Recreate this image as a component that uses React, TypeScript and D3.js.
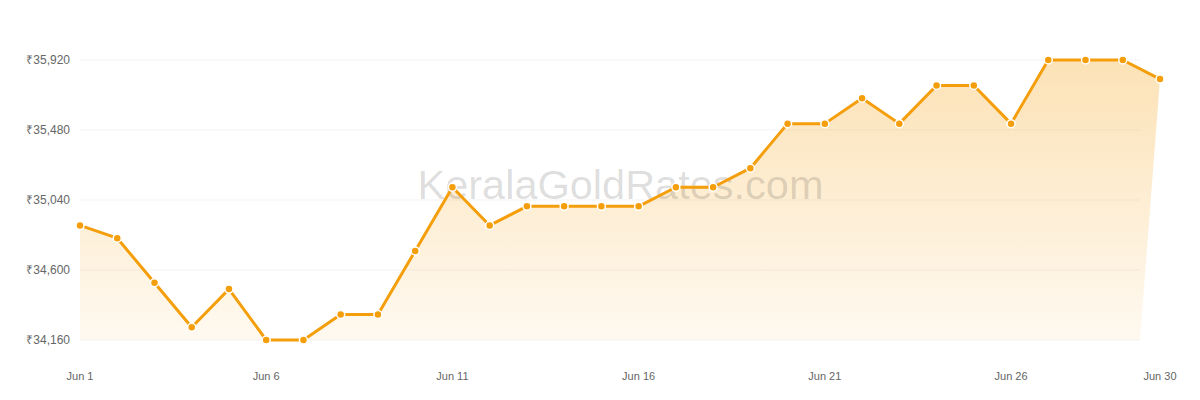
import React from "react";
import * as d3 from "d3";

const days: number[] = Array.from({ length: 30 }, (_, i) => i + 1);
const prices: number[] = [
  34880, 34800, 34520, 34240, 34480, 34160, 34160, 34320, 34320, 34720,
  35120, 34880, 35000, 35000, 35000, 35000, 35120, 35120, 35240, 35520,
  35520, 35680, 35520, 35760, 35760, 35520, 35920, 35920, 35920, 35800,
];
const yTicks: number[] = [34160, 34600, 35040, 35480, 35920];
const xTickDays: number[] = [1, 6, 11, 16, 21, 26, 30];
const monthLabel = "Jun";
const watermark = "KeralaGoldRates.com";

const W = 1200;
const H = 400;
const FONT = "Helvetica, Arial, 'Liberation Sans', sans-serif";

export default function App() {
  const x = d3.scaleLinear().domain([1, 30]).range([80, 1160]);
  const y = d3.scaleLinear().domain([34160, 35920]).range([340, 60]);
  const gridRight = 1140;
  const baseY = y(34160);

  const pts: [number, number][] = days.map((d, i) => [x(d), y(prices[i])]);
  const linePath = d3.line()(pts) || "";
  const areaPath =
    linePath + `L${gridRight},${baseY}L${x(1)},${baseY}Z`;
  const fmt = (v: number) => "₹" + d3.format(",")(v);

  return (
    <svg
      width={W}
      height={H}
      style={{ position: "absolute", left: 0, top: 0, background: "#fff" }}
      fontFamily={FONT}
    >
      <defs>
        <linearGradient id="goldFill" x1="0" y1={y(35920)} x2="0" y2={baseY} gradientUnits="userSpaceOnUse">
          <stop offset="0" stopColor="#f59e0b" stopOpacity={0.3} />
          <stop offset="1" stopColor="#f59e0b" stopOpacity={0.06} />
        </linearGradient>
      </defs>
      {yTicks.map((t) => (
        <g key={t}>
          <line x1={x(1)} x2={gridRight} y1={y(t)} y2={y(t)} stroke="#f3f3f3" strokeWidth={1} />
          <text x={70} y={y(t)} dy="0.35em" textAnchor="end" fontSize={12} fill="#666">
            {fmt(t)}
          </text>
        </g>
      ))}
      {xTickDays.map((d) => (
        <text key={d} x={x(d)} y={380} textAnchor="middle" fontSize={11} fill="#666">
          {`${monthLabel} ${d}`}
        </text>
      ))}
      <path d={areaPath} fill="url(#goldFill)" />
      <text
        x={620.5}
        y={199}
        textAnchor="middle"
        fontSize={41.5}
        fill="rgba(0,0,0,0.14)"
      >
        {watermark}
      </text>
      <path d={linePath} fill="none" stroke="#f59e0b" strokeWidth={3} strokeLinejoin="round" />
      {pts.map(([px, py], i) => (
        <circle key={i} cx={px} cy={py} r={4} fill="#f59e0b" stroke="#fff" strokeWidth={1.5} />
      ))}
    </svg>
  );
}
